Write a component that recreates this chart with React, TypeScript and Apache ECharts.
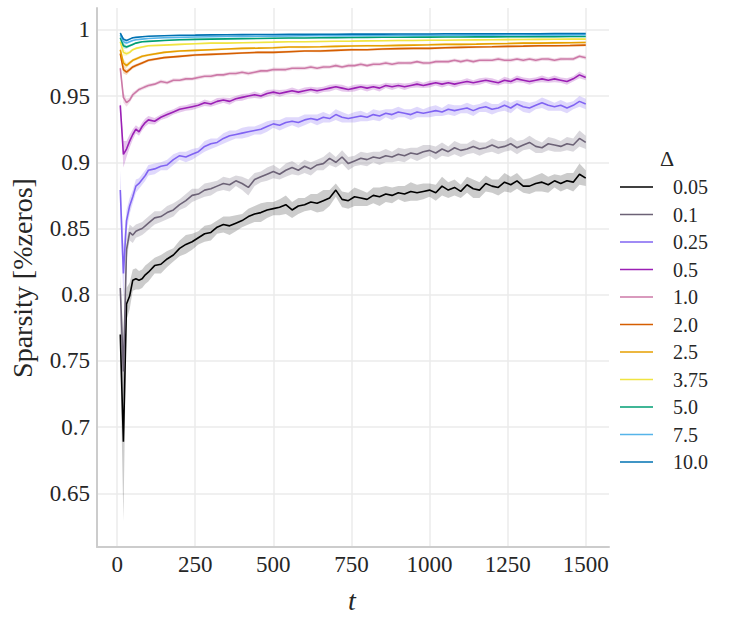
import React, { useEffect, useRef } from 'react';
import * as echarts from 'echarts';

// time steps
const T_FINE = [10,20,30,40,50,60,70,80,90,100,120,140,160,180,200,220,240,260,280,300,320,340,360,380,400,420,440,460,480,500,520,540,560,580,600,620,640,660,680,700,720,740,760,780,800,820,840,860,880,900,920,940,960,980,1000,1020,1040,1060,1080,1100,1120,1140,1160,1180,1200,1220,1240,1260,1280,1300,1320,1340,1360,1380,1400,1420,1440,1460,1480,1500];
const T_COARSE = [10,20,30,40,50,60,80,100,150,200,250,300,350,400,450,500,550,600,650,700,750,800,850,900,950,1000,1050,1100,1150,1200,1250,1300,1350,1400,1450,1500];

// Δ = 0.05
const S_005 = [0.770,0.689,0.793,0.799,0.811,0.812,0.811,0.812,0.815,0.817,
  0.822,0.823,0.827,0.830,0.835,0.838,0.840,0.843,0.846,0.847,
  0.851,0.853,0.852,0.854,0.856,0.859,0.861,0.862,0.864,0.865,
  0.866,0.868,0.864,0.867,0.868,0.870,0.869,0.871,0.873,0.879,
  0.872,0.871,0.874,0.873,0.872,0.875,0.874,0.876,0.875,0.877,
  0.876,0.878,0.877,0.878,0.879,0.877,0.882,0.879,0.881,0.878,
  0.883,0.880,0.879,0.884,0.882,0.881,0.885,0.883,0.886,0.882,
  0.882,0.884,0.885,0.883,0.886,0.884,0.886,0.885,0.891,0.888];
const E_005 = [0.02,0.06,0.012,0.01,0.008,0.008,0.007,0.007,0.007,0.007,
  0.006,0.007,0.006,0.005,0.006,0.007,0.006,0.005,0.006,0.006,
  0.005,0.006,0.007,0.006,0.005,0.006,0.006,0.007,0.006,0.005,
  0.006,0.007,0.006,0.006,0.005,0.006,0.007,0.008,0.006,0.005,
  0.006,0.006,0.007,0.006,0.005,0.006,0.007,0.006,0.006,0.005,
  0.006,0.007,0.006,0.006,0.005,0.006,0.007,0.006,0.006,0.005,
  0.006,0.007,0.006,0.006,0.005,0.006,0.007,0.006,0.006,0.005,
  0.006,0.006,0.007,0.006,0.005,0.006,0.006,0.007,0.008,0.006];

// Δ = 0.1
const S_01 = [0.805,0.742,0.834,0.847,0.845,0.848,0.849,0.850,0.852,0.854,
  0.858,0.859,0.862,0.864,0.868,0.871,0.875,0.876,0.879,0.880,
  0.882,0.884,0.883,0.886,0.884,0.881,0.887,0.889,0.891,0.893,
  0.891,0.894,0.896,0.894,0.897,0.895,0.898,0.899,0.903,0.900,
  0.904,0.899,0.901,0.903,0.902,0.904,0.903,0.905,0.904,0.906,
  0.905,0.907,0.906,0.908,0.909,0.907,0.910,0.908,0.911,0.909,
  0.910,0.912,0.910,0.911,0.913,0.911,0.912,0.914,0.911,0.913,
  0.915,0.912,0.911,0.914,0.913,0.912,0.914,0.913,0.918,0.915];
const E_01 = [0.01,0.025,0.008,0.006,0.006,0.005,0.005,0.005,0.005,0.005,
  0.005,0.004,0.005,0.005,0.004,0.005,0.005,0.004,0.005,0.005,
  0.004,0.005,0.005,0.004,0.005,0.006,0.005,0.004,0.005,0.005,
  0.004,0.005,0.005,0.004,0.005,0.005,0.004,0.005,0.005,0.004,
  0.005,0.005,0.004,0.005,0.005,0.004,0.005,0.005,0.004,0.005,
  0.005,0.004,0.005,0.005,0.004,0.005,0.005,0.004,0.005,0.005,
  0.004,0.005,0.005,0.004,0.005,0.005,0.004,0.005,0.005,0.004,
  0.005,0.005,0.004,0.005,0.005,0.004,0.005,0.005,0.006,0.005];

// Δ = 0.25
const S_025 = [0.879,0.816,0.856,0.867,0.874,0.882,0.884,0.887,0.890,0.894,
  0.895,0.897,0.898,0.902,0.905,0.904,0.906,0.908,0.912,0.914,
  0.915,0.918,0.920,0.921,0.922,0.923,0.924,0.925,0.927,0.929,
  0.928,0.930,0.931,0.930,0.932,0.933,0.932,0.934,0.933,0.936,
  0.934,0.933,0.934,0.935,0.934,0.936,0.935,0.937,0.936,0.938,
  0.937,0.936,0.938,0.937,0.938,0.939,0.938,0.940,0.939,0.940,
  0.941,0.939,0.941,0.942,0.940,0.941,0.943,0.941,0.944,0.942,
  0.941,0.943,0.945,0.943,0.942,0.943,0.941,0.943,0.946,0.944];
const E_025 = [0.015,0.02,0.008,0.006,0.005,0.005,0.004,0.004,0.004,0.004,
  0.004,0.003,0.004,0.004,0.003,0.004,0.004,0.003,0.004,0.004,
  0.003,0.004,0.004,0.003,0.004,0.004,0.003,0.004,0.004,0.003,
  0.004,0.004,0.003,0.004,0.004,0.003,0.004,0.004,0.003,0.004,
  0.004,0.003,0.004,0.004,0.003,0.004,0.004,0.003,0.004,0.004,
  0.003,0.004,0.004,0.003,0.004,0.004,0.003,0.004,0.004,0.003,
  0.004,0.004,0.003,0.004,0.004,0.003,0.004,0.004,0.003,0.004,
  0.004,0.003,0.004,0.004,0.003,0.004,0.004,0.003,0.004,0.004];

// Δ = 0.5
const S_05 = [0.943,0.906,0.910,0.916,0.921,0.925,0.923,0.927,0.930,0.932,
  0.931,0.934,0.936,0.938,0.940,0.941,0.942,0.943,0.945,0.944,
  0.946,0.947,0.946,0.948,0.949,0.950,0.951,0.950,0.952,0.953,
  0.952,0.953,0.954,0.953,0.954,0.955,0.954,0.955,0.956,0.957,
  0.956,0.955,0.956,0.957,0.956,0.957,0.956,0.958,0.957,0.958,
  0.957,0.958,0.959,0.958,0.959,0.960,0.959,0.960,0.959,0.960,
  0.961,0.960,0.961,0.962,0.961,0.960,0.962,0.961,0.963,0.962,
  0.961,0.962,0.963,0.962,0.963,0.962,0.961,0.963,0.966,0.964];
const E_05 = [0.004,0.01,0.006,0.005,0.004,0.003,0.003,0.003,0.003,0.003,
  0.0025,0.002,0.0025,0.002,0.0025,0.002,0.0025,0.002,0.0025,0.002,
  0.0025,0.002,0.0025,0.002,0.0025,0.002,0.0025,0.002,0.0025,0.002,
  0.0025,0.002,0.0025,0.002,0.0025,0.002,0.0025,0.002,0.0025,0.002,
  0.0025,0.002,0.0025,0.002,0.0025,0.002,0.0025,0.002,0.0025,0.002,
  0.0025,0.002,0.0025,0.002,0.0025,0.002,0.0025,0.002,0.0025,0.002,
  0.0025,0.002,0.0025,0.002,0.0025,0.002,0.0025,0.002,0.0025,0.002,
  0.0025,0.002,0.0025,0.002,0.0025,0.002,0.0025,0.002,0.0025,0.002];

// Δ = 1.0
const S_1 = [0.971,0.949,0.945,0.947,0.951,0.953,0.955,0.956,0.957,0.958,
  0.959,0.961,0.960,0.962,0.962,0.963,0.963,0.964,0.965,0.965,
  0.966,0.966,0.967,0.967,0.968,0.967,0.968,0.969,0.969,0.970,
  0.970,0.970,0.971,0.971,0.971,0.972,0.971,0.972,0.972,0.973,
  0.972,0.973,0.973,0.974,0.973,0.974,0.974,0.975,0.974,0.975,
  0.975,0.975,0.976,0.975,0.975,0.976,0.976,0.976,0.977,0.976,
  0.977,0.976,0.977,0.977,0.977,0.978,0.977,0.977,0.978,0.977,
  0.978,0.977,0.978,0.978,0.977,0.978,0.978,0.978,0.980,0.979];
const E_1 = [0.004,0.004,0.003,0.002,0.002,0.0015,0.0015,0.0015,0.0015,0.0015,
  0.0013,0.0015,0.0013,0.0015,0.0013,0.0015,0.0013,0.0015,0.0013,0.0015,
  0.0013,0.0015,0.0013,0.0015,0.0013,0.0015,0.0013,0.0015,0.0013,0.0015,
  0.0013,0.0015,0.0013,0.0015,0.0013,0.0015,0.0013,0.0015,0.0013,0.0015,
  0.0013,0.0015,0.0013,0.0015,0.0013,0.0015,0.0013,0.0015,0.0013,0.0015,
  0.0013,0.0015,0.0013,0.0015,0.0013,0.0015,0.0013,0.0015,0.0013,0.0015,
  0.0013,0.0015,0.0013,0.0015,0.0013,0.0015,0.0013,0.0015,0.0013,0.0015,
  0.0013,0.0015,0.0013,0.0015,0.0013,0.0015,0.0013,0.0015,0.0013,0.0015];

// Δ = 2.0 .. 10.0 (coarse steps)
const S_2 = [0.982,0.970,0.968,0.970,0.972,0.973,0.975,0.977,0.979,0.980,0.981,0.9815,0.982,0.9825,0.983,0.983,0.9835,0.984,0.984,0.9845,0.985,0.985,0.9855,0.9858,0.986,0.986,0.9865,0.9868,0.987,0.9872,0.9875,0.9877,0.988,0.988,0.9882,0.9885];
const E_2 = [0.0035,0.003,0.002,0.0015,0.0013,0.0012,0.0011,0.001,0.0009,0.0008,0.0009,0.0008,0.0009,0.0008,0.0009,0.0008,0.0009,0.0008,0.0009,0.0008,0.0009,0.0008,0.0009,0.0008,0.0009,0.0008,0.0009,0.0008,0.0009,0.0008,0.0009,0.0008,0.0009,0.0008,0.0009,0.0008];
const S_25 = [0.985,0.975,0.973,0.975,0.977,0.978,0.980,0.981,0.983,0.984,0.9845,0.985,0.9855,0.986,0.9862,0.9865,0.987,0.987,0.9872,0.9875,0.9878,0.988,0.988,0.9883,0.9885,0.9887,0.989,0.989,0.9892,0.9895,0.9897,0.990,0.990,0.9902,0.9903,0.9905];
const E_25 = [0.003,0.003,0.002,0.0015,0.0012,0.0011,0.001,0.0009,0.0008,0.0008,0.0007,0.0008,0.0007,0.0008,0.0007,0.0008,0.0007,0.0008,0.0007,0.0008,0.0007,0.0008,0.0007,0.0008,0.0007,0.0008,0.0007,0.0008,0.0007,0.0008,0.0007,0.0008,0.0007,0.0008,0.0007,0.0008];
const S_375 = [0.991,0.983,0.982,0.983,0.985,0.986,0.987,0.988,0.9885,0.989,0.9895,0.990,0.990,0.9903,0.9905,0.9907,0.991,0.991,0.9912,0.9914,0.9915,0.9917,0.9918,0.992,0.992,0.9921,0.9922,0.9923,0.9924,0.9925,0.9926,0.9927,0.9928,0.9929,0.993,0.993];
const E_375 = [0.0025,0.0025,0.0015,0.0012,0.001,0.0009,0.0008,0.0007,0.0007,0.0006,0.0006,0.0006,0.0006,0.0006,0.0006,0.0006,0.0006,0.0006,0.0006,0.0006,0.0006,0.0006,0.0006,0.0006,0.0006,0.0006,0.0006,0.0006,0.0006,0.0006,0.0006,0.0006,0.0006,0.0006,0.0006,0.0006];
const S_5 = [0.994,0.988,0.987,0.988,0.989,0.990,0.991,0.9913,0.992,0.9925,0.9928,0.993,0.9932,0.9934,0.9935,0.9937,0.9938,0.9939,0.994,0.9941,0.9942,0.9943,0.9944,0.9944,0.9945,0.9945,0.9946,0.9946,0.9947,0.9947,0.9948,0.9948,0.9949,0.9949,0.995,0.995];
const E_5 = [0.002,0.002,0.0012,0.001,0.0008,0.0007,0.0006,0.0005,0.0005,0.0005,0.0005,0.0005,0.0005,0.0005,0.0005,0.0005,0.0005,0.0005,0.0005,0.0005,0.0005,0.0005,0.0005,0.0005,0.0005,0.0005,0.0005,0.0005,0.0005,0.0005,0.0005,0.0005,0.0005,0.0005,0.0005,0.0005];
const S_75 = [0.996,0.991,0.990,0.991,0.992,0.9925,0.993,0.9935,0.994,0.9943,0.9946,0.9948,0.995,0.9951,0.9952,0.9953,0.9954,0.9955,0.9955,0.9956,0.9956,0.9957,0.9957,0.9958,0.9958,0.9959,0.9959,0.996,0.996,0.996,0.9961,0.9961,0.9962,0.9962,0.9962,0.9963];
const E_75 = [0.0015,0.0015,0.001,0.0008,0.0006,0.0005,0.0005,0.0004,0.0004,0.0004,0.0004,0.0004,0.0004,0.0004,0.0004,0.0004,0.0004,0.0004,0.0004,0.0004,0.0004,0.0004,0.0004,0.0004,0.0004,0.0004,0.0004,0.0004,0.0004,0.0004,0.0004,0.0004,0.0004,0.0004,0.0004,0.0004];
const S_10 = [0.9975,0.993,0.992,0.993,0.994,0.9943,0.9948,0.9952,0.9956,0.9959,0.996,0.9962,0.9963,0.9964,0.9965,0.9965,0.9966,0.9966,0.9967,0.9967,0.9968,0.9968,0.9968,0.9969,0.9969,0.9969,0.997,0.997,0.997,0.997,0.9971,0.9971,0.9971,0.9972,0.9972,0.9972];
const E_10 = [0.0012,0.0012,0.0008,0.0006,0.0005,0.0004,0.0004,0.0004,0.0003,0.0003,0.0003,0.0003,0.0003,0.0003,0.0003,0.0003,0.0003,0.0003,0.0003,0.0003,0.0003,0.0003,0.0003,0.0003,0.0003,0.0003,0.0003,0.0003,0.0003,0.0003,0.0003,0.0003,0.0003,0.0003,0.0003,0.0003];

const DELTAS = ['0.05','0.1','0.25','0.5','1.0','2.0','2.5','3.75','5.0','7.5','10.0'];
const COLORS = ['#000000','#6c6276','#8064f2','#9b20b5','#cc79a7','#d55e00','#e69f00','#f0e442','#009e73','#56b4e9','#0072b2'];
const TIMES = [T_FINE,T_FINE,T_FINE,T_FINE,T_FINE,T_COARSE,T_COARSE,T_COARSE,T_COARSE,T_COARSE,T_COARSE];
const MEANS = [S_005,S_01,S_025,S_05,S_1,S_2,S_25,S_375,S_5,S_75,S_10];
const ERRS = [E_005,E_01,E_025,E_05,E_1,E_2,E_25,E_375,E_5,E_75,E_10];

const X_TICKS = [0,250,500,750,1000,1250,1500];
const Y_TICKS = [0.65,0.7,0.75,0.8,0.85,0.9,0.95,1];

const FONT = 'Liberation Serif';
const TEXT_COLOR = '#262626';

export default function App() {
  const ref = useRef<HTMLDivElement>(null);
  useEffect(() => {
    const chart = echarts.init(ref.current!, null, { renderer: 'svg' });

    const bandSeries: any[] = DELTAS.map((d, k) => {
      const t = TIMES[k], m = MEANS[k], e = ERRS[k];
      return {
        type: 'custom',
        name: d + ' band',
        z: 1,
        silent: true,
        data: t.map((x, i) => [x, m[i]]),
        renderItem: (params: any, api: any) => {
          if (params.dataIndex !== 0) return null;
          const pts: number[][] = [];
          for (let i = 0; i < t.length; i++) pts.push(api.coord([t[i], m[i] + e[i]]));
          for (let i = t.length - 1; i >= 0; i--) pts.push(api.coord([t[i], m[i] - e[i]]));
          return {
            type: 'polygon',
            shape: { points: pts },
            style: { fill: COLORS[k], opacity: k === 0 ? 0.2 : 0.25, stroke: 'none' },
          };
        },
      };
    });

    const lineSeries: any[] = DELTAS.map((d, k) => ({
      type: 'line',
      name: d,
      z: 2,
      symbol: 'none',
      data: TIMES[k].map((x, i) => [x, MEANS[k][i]]),
      lineStyle: { color: COLORS[k], width: 1.6 },
      itemStyle: { color: COLORS[k] },
    }));

    const legendItems: any[] = [];
    DELTAS.forEach((d, k) => {
      const y = 187 + 27.5 * k;
      legendItems.push({ type: 'line', shape: { x1: 620, y1: y, x2: 653, y2: y }, style: { stroke: COLORS[k], lineWidth: 1.6 } });
      legendItems.push({ type: 'text', x: 673, y, style: { text: d, fontSize: 20, fontFamily: FONT, fill: TEXT_COLOR, align: 'left', verticalAlign: 'middle' } });
    });

    const option: any = {
      animation: false,
      backgroundColor: '#ffffff',
      textStyle: { fontFamily: FONT },
      grid: { left: 97, top: 8, right: 121, bottom: 76, containLabel: false },
      xAxis: {
        type: 'value',
        min: -64.5,
        max: 1574.5,
        axisLine: { show: true, onZero: false, lineStyle: { color: '#cccccc', width: 2 } },
        axisTick: { show: false, customValues: X_TICKS },
        axisLabel: {
          customValues: X_TICKS, fontSize: 23, fontFamily: FONT, color: TEXT_COLOR, margin: 6,
          formatter: (v: number) => String(Math.round(v)),
        },
        splitLine: { show: true, lineStyle: { color: '#ebebeb', width: 1.5 } },
      },
      yAxis: {
        type: 'value',
        min: 0.6095,
        max: 1.0165,
        axisLine: { show: true, onZero: false, lineStyle: { color: '#cccccc', width: 2 } },
        axisTick: { show: false, customValues: Y_TICKS },
        axisLabel: {
          customValues: Y_TICKS, fontSize: 23, fontFamily: FONT, color: TEXT_COLOR, margin: 7,
          formatter: (v: number) => String(parseFloat(v.toFixed(2))),
        },
        splitLine: { show: true, lineStyle: { color: '#ebebeb', width: 1.5 } },
      },
      graphic: [
        { type: 'text', x: 667, y: 158, style: { text: 'Δ', fontSize: 22, fontFamily: FONT, fill: TEXT_COLOR, align: 'center', verticalAlign: 'middle' } },
        { type: 'text', x: 22, y: 278, rotation: Math.PI / 2, style: { text: 'Sparsity [%zeros]', fontSize: 28, fontFamily: FONT, fill: TEXT_COLOR, align: 'center', verticalAlign: 'middle' } },
        { type: 'text', x: 352, y: 600, style: { text: 't', fontSize: 28, fontStyle: 'italic', fontFamily: FONT, fill: TEXT_COLOR, align: 'center', verticalAlign: 'middle' } },
        ...legendItems,
      ],
      series: [...bandSeries, ...lineSeries],
    };
    chart.setOption(option);
    return () => chart.dispose();
  }, []);
  return <div ref={ref} style={{ position: 'fixed', left: 0, top: 0, width: 730, height: 623 }} />;
}
